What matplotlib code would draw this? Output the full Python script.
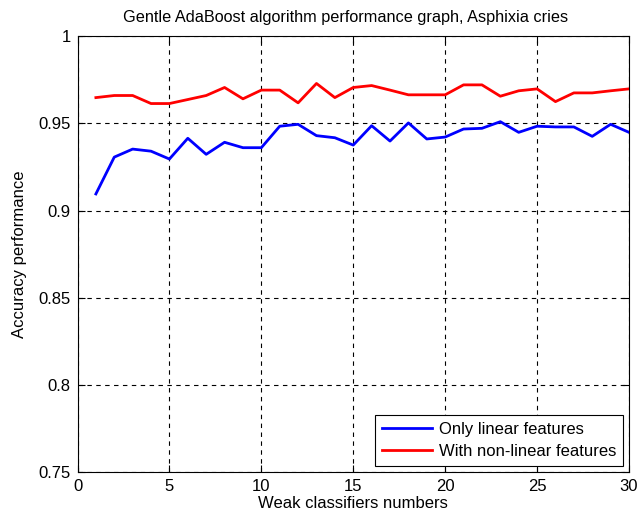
import matplotlib
matplotlib.use("Agg")
import matplotlib.pyplot as plt

plt.rcParams['font.family'] = ['Liberation Sans', 'DejaVu Sans']

x = list(range(1, 31))
linear = [0.9095, 0.9306, 0.9352, 0.9340, 0.9295, 0.9414, 0.9322, 0.9391, 0.9360, 0.9360,
          0.9483, 0.9494, 0.9429, 0.9417, 0.9375, 0.9486, 0.9398, 0.9502, 0.9410, 0.9421,
          0.9467, 0.9471, 0.9509, 0.9448, 0.9483, 0.9479, 0.9479, 0.9425, 0.9494, 0.9448]
nonlinear = [0.9647, 0.9659, 0.9659, 0.9613, 0.9613, 0.9636, 0.9659, 0.9705, 0.9640, 0.9690,
             0.9690, 0.9617, 0.9728, 0.9647, 0.9705, 0.9716, 0.9690, 0.9663, 0.9663, 0.9663,
             0.9720, 0.9720, 0.9655, 0.9686, 0.9697, 0.9624, 0.9674, 0.9674, 0.9686, 0.9697]
xticks = [0, 5, 10, 15, 20, 25, 30]
yticks = [0.75, 0.8, 0.85, 0.9, 0.95, 1.0]
yticklabels = ['0.75', '0.8', '0.85', '0.9', '0.95', '1']

fig = plt.figure(figsize=(6.4, 5.23), dpi=100)
ax = fig.add_axes([77.5/640, 1-472.3/523, (629-77.5)/640, (472.3-36)/523])
ax.plot(x, linear, color='#0000ff', lw=2, label='Only linear features')
ax.plot(x, nonlinear, color='#ff0000', lw=2, label='With non-linear features')
ax.set_xlim(0, 30)
ax.set_ylim(0.75, 1.0)
ax.set_xticks(xticks)
ax.set_yticks(yticks)
ax.set_yticklabels(yticklabels)
ax.grid(True, color='black', linestyle=(0, (4, 4)), linewidth=0.8)
ax.tick_params(direction='in', labelsize=12, top=True, right=True, length=5)
ax.tick_params(axis='x', pad=5)
ax.tick_params(axis='y', pad=5)
for s in ax.spines.values():
    s.set_linewidth(0.8)
ax.set_title('Gentle AdaBoost algorithm performance graph, Asphixia cries', fontsize=11.7, pad=10, x=0.486)
ax.set_xlabel('Weak classifiers numbers', fontsize=12, labelpad=1)
ax.set_ylabel('Accuracy performance', fontsize=12, labelpad=8)
leg = ax.legend(loc='lower right', fontsize=12, fancybox=False, edgecolor='black',
                framealpha=1, borderaxespad=0.38, handlelength=3.0, borderpad=0.4,
                labelspacing=0.45, handletextpad=0.4)
leg.get_frame().set_linewidth(0.8)
fig.savefig('out.png', dpi=100)
